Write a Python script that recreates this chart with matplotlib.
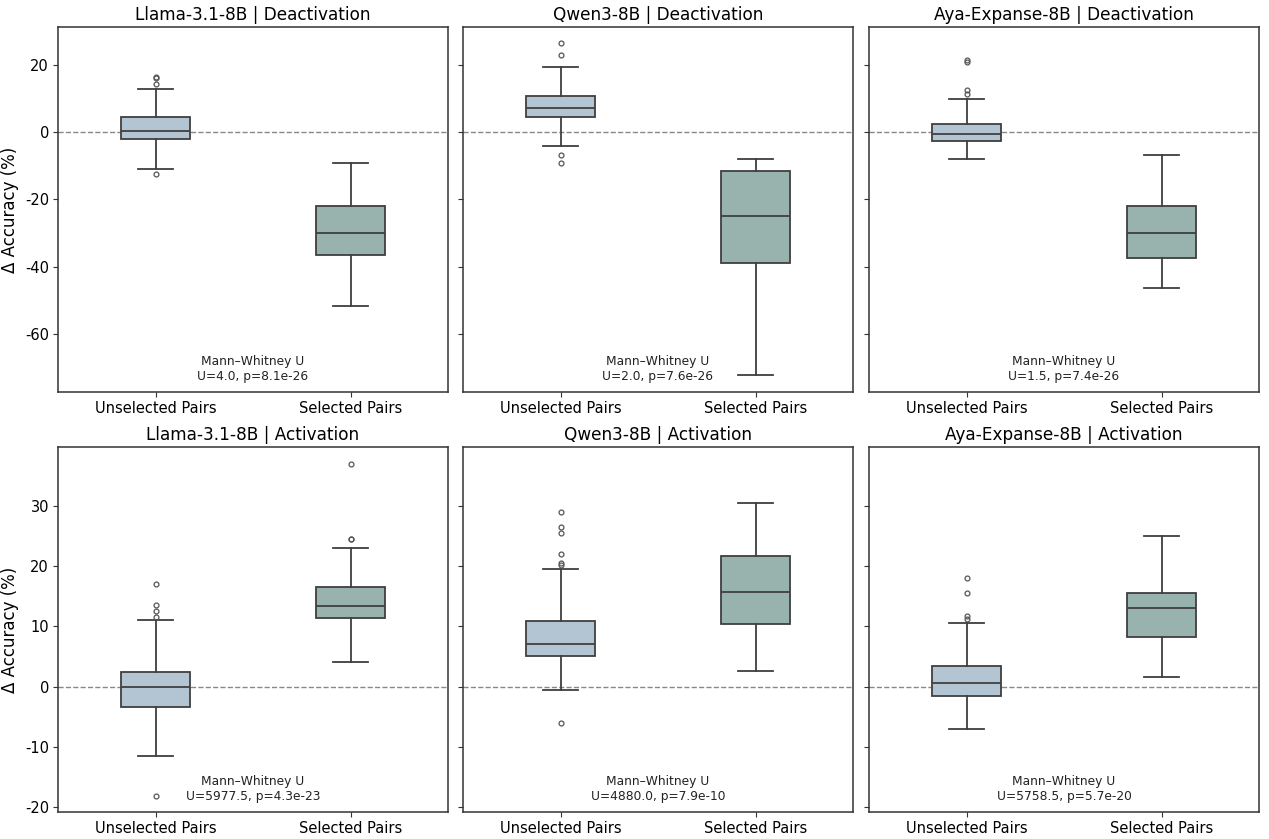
import matplotlib.pyplot as plt

plt.rcParams["axes.unicode_minus"] = False

models = ["Llama-3.1-8B", "Qwen3-8B", "Aya-Expanse-8B"]
modes = ["Deactivation", "Activation"]
groups = ["Unselected Pairs", "Selected Pairs"]

# box stats per panel: [unselected, selected], each (whislo, q1, med, q3, whishi)
deact_stats = [
    [(-10.9, -2.0, 0.5, 4.5, 12.9), (-51.8, -36.5, -30.1, -22.0, -9.0)],
    [(-4.0, 4.5, 7.2, 10.8, 19.5), (-72.3, -38.8, -25.0, -11.4, -8.0)],
    [(-8.0, -2.5, -0.5, 2.5, 10.0), (-46.4, -37.5, -30.1, -22.0, -6.9)],
]
deact_fliers = [
    [[16.5, 16.1, 14.5, -12.4], []],
    [[26.6, 23.0, -6.9, -9.1], []],
    [[21.6, 20.9, 12.7, 11.4], []],
]
act_stats = [
    [(-11.6, -3.4, 0.0, 2.4, 11.0), (4.0, 11.3, 13.3, 16.5, 23.0)],
    [(-0.55, 5.0, 7.0, 10.9, 19.5), (2.5, 10.4, 15.7, 21.6, 30.5)],
    [(-7.1, -1.5, 0.5, 3.4, 10.6), (1.5, 8.2, 13.0, 15.5, 24.9)],
]
act_fliers = [
    [[17.0, 13.5, 12.5, 11.5, -18.1], [36.9, 24.5, 24.4]],
    [[29.0, 26.5, 25.5, 22.0, 20.5, 20.1, -6.1], []],
    [[18.0, 15.5, 11.7, 11.2], []],
]
mw_text = [
    ["U=4.0, p=8.1e-26", "U=2.0, p=7.6e-26", "U=1.5, p=7.4e-26"],
    ["U=5977.5, p=4.3e-23", "U=4880.0, p=7.9e-10", "U=5758.5, p=5.7e-20"],
]

box_colors = ["#b3c5d2", "#98b3ad"]
edge = "#3f3f3f"

fig = plt.figure(figsize=(12.69, 8.39), dpi=100)
lefts = [58 / 1269, 463 / 1269, 869 / 1269]
width = 390 / 1269
bottoms = [1 - 392 / 839, 1 - 812 / 839]
height = 365 / 839
ylims = [(-77.4, 31.4), (-20.8, 39.7)]

for r, (stats, fliers) in enumerate([(deact_stats, deact_fliers), (act_stats, act_fliers)]):
    for c in range(3):
        ax = fig.add_axes([lefts[c], bottoms[r], width, height])
        bxp = []
        for g in range(2):
            lo, q1, med, q3, hi = stats[c][g]
            bxp.append(dict(whislo=lo, q1=q1, med=med, q3=q3, whishi=hi,
                            fliers=fliers[c][g], label=groups[g]))
        ax.axhline(0, color="#888888", linestyle="--", linewidth=1, zorder=0)
        res = ax.bxp(bxp, positions=[0, 1], widths=0.35, patch_artist=True,
                     boxprops=dict(edgecolor=edge, linewidth=1.3),
                     medianprops=dict(color=edge, linewidth=1.3),
                     whiskerprops=dict(color=edge, linewidth=1.3),
                     capprops=dict(color=edge, linewidth=1.3),
                     flierprops=dict(marker="o", markersize=3.5, markerfacecolor="none",
                                     markeredgecolor="#555555", markeredgewidth=0.9))
        for patch, col in zip(res["boxes"], box_colors):
            patch.set_facecolor(col)
        ax.set_xlim(-0.5, 1.5)
        ax.set_ylim(*ylims[r])
        if r == 0:
            ax.set_yticks([-60, -40, -20, 0, 20])
        else:
            ax.set_yticks([-20, -10, 0, 10, 20, 30])
        ax.tick_params(labelsize=10.5, color="#333333", pad=3)
        if c == 0:
            ax.set_ylabel("Δ Accuracy (%)", fontsize=12, labelpad=4)
        else:
            ax.set_yticklabels([])
        for s in ax.spines.values():
            s.set_color("#333333")
            s.set_linewidth(1.1)
        ax.set_title(f"{models[c]} | {modes[r]}", fontsize=12.2, pad=5)
        ax.text(0.5, 0.025, "Mann–Whitney U\n" + mw_text[r][c], transform=ax.transAxes,
                ha="center", va="bottom", fontsize=8.8, color="#222222")

fig.savefig("out.png", dpi=100)
